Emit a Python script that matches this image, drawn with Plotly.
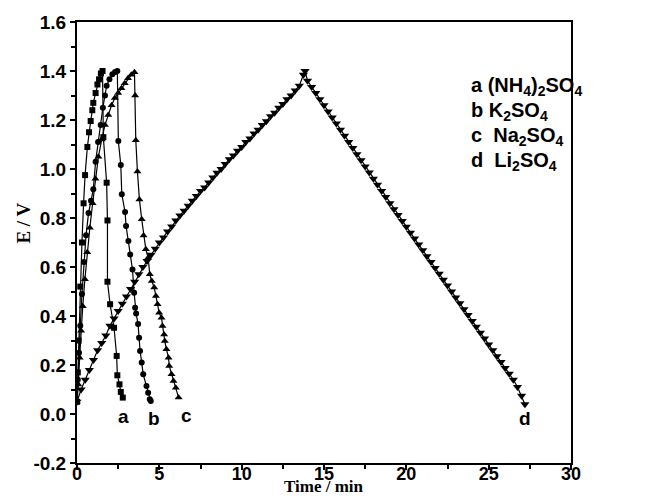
import plotly.graph_objects as go

# ---- data ----
a_t = [0.0, 0.05, 0.1, 0.2, 0.3, 0.4, 0.49, 0.63, 0.73, 0.83, 0.93, 0.99, 1.13, 1.24, 1.34, 1.45, 1.55,
       1.60, 1.80, 1.85, 1.85, 2.01, 2.25, 2.41, 2.45, 2.58, 2.66, 2.78]
a_E = [0.05, 0.17, 0.30, 0.52, 0.70, 0.86, 0.975, 1.09, 1.15, 1.196, 1.24, 1.27, 1.31, 1.345, 1.366, 1.39, 1.40,
       1.13, 0.944, 0.79, 0.54, 0.448, 0.352, 0.237, 0.158, 0.121, 0.09, 0.067]

b_t = [0.0, 0.05, 0.12, 0.2, 0.3, 0.42, 0.55, 0.7, 0.85, 0.99, 1.13, 1.28, 1.44, 1.57, 1.70, 1.80, 1.97, 2.15, 2.31, 2.45,
       2.51, 2.66, 2.72, 2.92, 2.98, 3.12, 3.23, 3.37, 3.47, 3.53, 3.59, 3.71, 3.77, 3.83, 3.93, 4.02, 4.22, 4.32, 4.42, 4.48]
b_E = [0.05, 0.14, 0.25, 0.36, 0.49, 0.62, 0.73, 0.82, 0.87, 0.917, 1.03, 1.11, 1.18, 1.25, 1.30, 1.34, 1.366, 1.387, 1.396, 1.40,
       1.114, 1.016, 0.897, 0.824, 0.767, 0.706, 0.651, 0.59, 0.495, 0.434, 0.41, 0.367, 0.311, 0.257, 0.21, 0.162, 0.114, 0.087, 0.06, 0.053]

c_t = [0.0, 0.08, 0.16, 0.25, 0.35, 0.48, 0.62, 0.78, 0.95, 1.12, 1.3, 1.5, 1.7, 1.9, 2.1, 2.3, 2.5, 2.7, 2.9, 3.1, 3.3, 3.49,
       3.53, 3.57, 3.67, 3.79, 3.93, 4.04, 4.18, 4.32, 4.42, 4.54, 4.69, 4.79, 4.89, 4.99, 5.13, 5.19, 5.29, 5.33, 5.43,
       5.56, 5.60, 5.74, 5.86, 6.0, 6.17]
c_E = [0.05, 0.12, 0.23, 0.34, 0.44, 0.55, 0.66, 0.76, 0.86, 0.96, 1.05, 1.12, 1.18, 1.22, 1.26, 1.29, 1.31, 1.33, 1.35, 1.37, 1.385, 1.395,
       1.30, 1.117, 0.99, 0.876, 0.795, 0.729, 0.672, 0.638, 0.57, 0.543, 0.516, 0.482, 0.448, 0.413, 0.393, 0.359, 0.325, 0.298,
       0.264, 0.23, 0.196, 0.162, 0.135, 0.107, 0.067]

d_t = [0.0, 0.25, 0.5, 0.75, 1.0, 1.25, 1.5, 1.75, 2.0, 2.25, 2.5, 2.75, 3.0, 3.25, 3.5, 3.75, 4.0, 4.25, 4.5, 4.75,
       5.0, 5.25, 5.5, 5.75, 6.0, 6.25, 6.5, 6.75, 7.0, 7.25, 7.5, 7.75, 8.0, 8.25, 8.5, 8.75, 9.0, 9.25, 9.5, 9.75,
       10.0, 10.25, 10.5, 10.75, 11.0, 11.25, 11.5, 11.75, 12.0, 12.25, 12.5, 12.75, 13.0, 13.25, 13.5, 13.75, 13.85,
       14.0, 14.25, 14.5, 14.75, 15.0, 15.25, 15.5, 15.75, 16.0, 16.25, 16.5, 16.75, 17.0, 17.25, 17.5, 17.75,
       18.0, 18.25, 18.5, 18.75, 19.0, 19.25, 19.5, 19.75, 20.0, 20.25, 20.5, 20.75, 21.0, 21.25, 21.5, 21.75,
       22.0, 22.25, 22.5, 22.75, 23.0, 23.25, 23.5, 23.75, 24.0, 24.25, 24.5, 24.75, 25.0, 25.25, 25.5, 25.75,
       26.0, 26.25, 26.5, 26.75, 27.0, 27.2]
d_E = [0.05, 0.10, 0.14, 0.18, 0.22, 0.26, 0.29, 0.32, 0.36, 0.39, 0.42, 0.45, 0.48, 0.51, 0.54, 0.57, 0.60, 0.625, 0.65, 0.675,
       0.70, 0.72, 0.745, 0.765, 0.79, 0.81, 0.83, 0.85, 0.87, 0.89, 0.91, 0.925, 0.945, 0.965, 0.985, 1.00, 1.02, 1.04, 1.055, 1.075,
       1.09, 1.11, 1.125, 1.145, 1.16, 1.18, 1.195, 1.215, 1.23, 1.25, 1.265, 1.285, 1.30, 1.32, 1.34, 1.385, 1.40,
       1.36, 1.335, 1.31, 1.285, 1.26, 1.235, 1.21, 1.186, 1.16, 1.136, 1.11, 1.086, 1.06, 1.036, 1.01, 0.986,
       0.96, 0.936, 0.91, 0.886, 0.86, 0.836, 0.812, 0.788, 0.764, 0.74, 0.716, 0.692, 0.668, 0.644, 0.62, 0.596,
       0.572, 0.548, 0.524, 0.50, 0.476, 0.452, 0.428, 0.404, 0.38, 0.356, 0.332, 0.308, 0.284, 0.26, 0.236, 0.212,
       0.188, 0.164, 0.14, 0.11, 0.075, 0.04]

curve_labels = ["a", "b", "c", "d"]
label_t = [2.8, 4.7, 6.65, 27.2]
label_E = [-0.01, -0.02, -0.005, -0.02]

legend_lines = ["a (NH<sub>4</sub>)<sub>2</sub>SO<sub>4</sub>",
                "b K<sub>2</sub>SO<sub>4</sub>",
                "c  Na<sub>2</sub>SO<sub>4</sub>",
                "d  Li<sub>2</sub>SO<sub>4</sub>"]

x_ticks = [0, 5, 10, 15, 20, 25, 30]
y_ticks = [-0.2, 0.0, 0.2, 0.4, 0.6, 0.8, 1.0, 1.2, 1.4, 1.6]

SANS = "Liberation Sans, Arial, sans-serif"
SERIF = "Liberation Serif, Times New Roman, serif"

fig = go.Figure()
series = [(a_t, a_E, "square", 6), (b_t, b_E, "circle", 6), (c_t, c_E, "triangle-up", 7), (d_t, d_E, "triangle-down", 8)]
for (t, E, sym, sz), name in zip(series, curve_labels):
    fig.add_trace(go.Scatter(x=t, y=E, mode="lines+markers", name=name,
                             line=dict(color="black", width=1.2),
                             marker=dict(symbol=sym, size=sz, color="black"),
                             showlegend=False))

for lab, lt, le in zip(curve_labels, label_t, label_E):
    fig.add_annotation(x=lt, y=le, text="<b>" + lab + "</b>", showarrow=False, yanchor="middle", xanchor="center",
                       font=dict(family=SANS, size=19, color="black"))

for i, txt in enumerate(legend_lines):
    fig.add_annotation(xref="paper", yref="paper", x=0.794, y=0.853 - i * 0.0567, text="<b>" + txt + "</b>",
                       showarrow=False, xanchor="left", yanchor="middle",
                       font=dict(family=SANS, size=20, color="black"))

# axis titles placed as in the reference
fig.add_annotation(xref="paper", yref="y", x=-0.108, y=0.78, text="<b>E / V</b>", textangle=-90,
                   showarrow=False, xanchor="center", yanchor="middle",
                   font=dict(family=SERIF, size=19, color="black"))
fig.add_annotation(xref="paper", yref="paper", x=0.5, y=-0.0794, text="<b>Time / min</b>",
                   showarrow=False, xanchor="center", yanchor="bottom",
                   font=dict(family=SERIF, size=17, color="black"))

axis_common = dict(showline=True, linecolor="black", linewidth=2, mirror=True,
                   ticks="outside", tickcolor="black", tickwidth=1.5, ticklen=5,
                   showgrid=False, zeroline=False, automargin=False)

fig.update_xaxes(range=[0, 30], tickvals=x_ticks, ticktext=[f"<b>{v}</b>" for v in x_ticks],
                 ticklabelstandoff=-12,
                 tickfont=dict(family=SANS, size=18, color="black"),
                 minor=dict(ticks="outside", dtick=2.5, ticklen=4, tickcolor="black", tickwidth=1.5),
                 **axis_common)
fig.update_yaxes(range=[-0.2, 1.6], tickvals=y_ticks, ticktext=[f"<b>{v:.1f}</b>" for v in y_ticks],
                 tickfont=dict(family=SANS, size=19, color="black"),
                 minor=dict(ticks="outside", dtick=0.1, tick0=-0.2, ticklen=4, tickcolor="black", tickwidth=1.5),
                 **axis_common)

# page has an 8px body margin, so the figure is 8px smaller than the window
fig.update_layout(width=641, height=490, margin=dict(l=69, r=78, t=14, b=35),
                  plot_bgcolor="white", paper_bgcolor="white")

fig.write_html("out.html")
